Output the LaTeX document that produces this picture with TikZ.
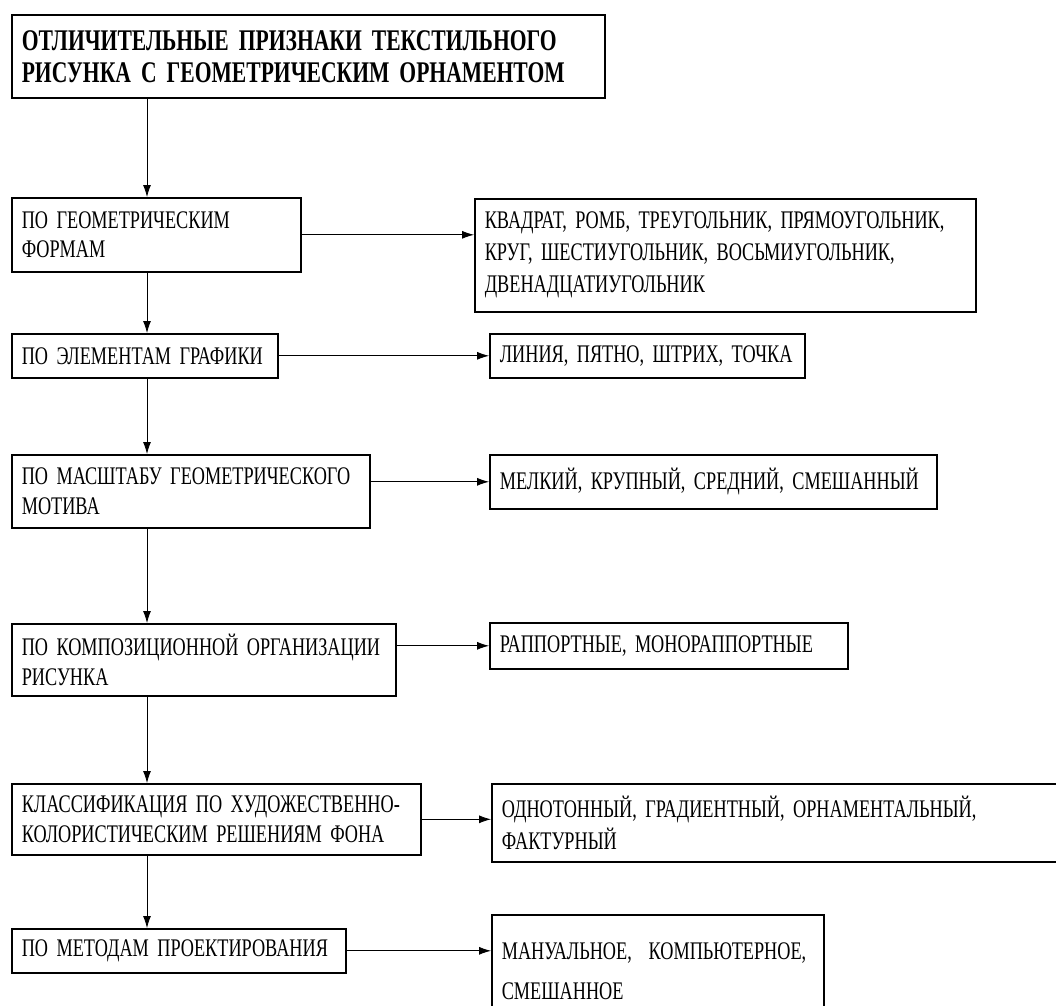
\documentclass[tikz,border=0pt]{standalone}
\usepackage{fontspec}
\setmainfont{Liberation Serif}[FakeStretch=0.72, WordSpace=0.55]
\usetikzlibrary{arrows.meta}
\newdimen\px \px=0.75pt

\begin{document}
\begin{tikzpicture}[x=0.75pt, y=-0.75pt,
    box/.style={draw, line width=1.2pt, anchor=north west, align=left,
        inner xsep=10\px, inner ysep=0pt, font=\fontsize{19}{22}\selectfont},
    arr/.style={-{Latex[length=9pt,width=6pt]}, line width=0.6pt}]
    \useasboundingbox (0,0) rectangle (1056,1006);
    \clip (0,0) rectangle (1056,1006);

    % === Titolo ===
    \node[box, text width=573\px, minimum height=83\px,
          font=\fontsize{22.5}{24}\selectfont\bfseries] (title) at (11,14)
        {ОТЛИЧИТЕЛЬНЫЕ ПРИЗНАКИ ТЕКСТИЛЬНОГО\\РИСУНКА С ГЕОМЕТРИЧЕСКИМ ОРНАМЕНТОМ};

    % === Colonna sinistra ===
    \node[box, text width=269\px, minimum height=74\px] (forms) at (11,197)
        {ПО ГЕОМЕТРИЧЕСКИМ\\ФОРМАМ};
    \node[box, text width=246\px, minimum height=44\px] (graph) at (11,333)
        {ПО ЭЛЕМЕНТАМ ГРАФИКИ};
    \node[box, text width=338\px, minimum height=73\px] (motif) at (11,454)
        {ПО МАСШТАБУ ГЕОМЕТРИЧЕСКОГО\\МОТИВА};
    \node[box, text width=364\px, minimum height=72\px] (comp) at (11,623)
        {ПО КОМПОЗИЦИОННОЙ ОРГАНИЗАЦИИ\\РИСУНКА};
    \node[box, text width=389\px, minimum height=71\px] (ground) at (11,783)
        {КЛАССИФИКАЦИЯ ПО ХУДОЖЕСТВЕННО-\\КОЛОРИСТИЧЕСКИМ РЕШЕНИЯМ ФОНА};
    \node[box, text width=314\px, minimum height=44\px] (method) at (11,928)
        {ПО МЕТОДАМ ПРОЕКТИРОВАНИЯ};

    % === Colonna destra ===
    \node[box, text width=481\px, minimum height=113\px,
          font=\fontsize{19}{24}\selectfont] (shapes) at (474,198)
        {КВАДРАТ, РОМБ, ТРЕУГОЛЬНИК, ПРЯМОУГОЛЬНИК,\\КРУГ, ШЕСТИУГОЛЬНИК, ВОСЬМИУГОЛЬНИК,\\ДВЕНАДЦАТИУГОЛЬНИК};
    \node[box, text width=295\px, minimum height=44\px] (marks) at (489,333)
        {ЛИНИЯ, ПЯТНО, ШТРИХ, ТОЧКА};
    \node[box, text width=427\px, minimum height=54\px] (sizes) at (489,454)
        {МЕЛКИЙ, КРУПНЫЙ, СРЕДНИЙ, СМЕШАННЫЙ};
    \node[box, text width=338\px, minimum height=46\px] (rapport) at (489,622)
        {РАППОРТНЫЕ, МОНОРАППОРТНЫЕ};
    \node[box, text width=580\px, minimum height=78\px,
          font=\fontsize{19}{24}\selectfont] (fills) at (491,783)
        {ОДНОТОННЫЙ, ГРАДИЕНТНЫЙ, ОРНАМЕНТАЛЬНЫЙ,\\ФАКТУРНЫЙ};
    \node[box, text width=312\px, minimum height=112\px,
          font=\fontsize{19}{30}\selectfont] (tools) at (491,914)
        {МАНУАЛЬНОЕ,\ \ КОМПЬЮТЕРНОЕ,\\СМЕШАННОЕ};

    % Linea verticale
    \coordinate (spine) at (147,0);
    \foreach \a/\b in {title/forms, forms/graph, graph/motif,
                       motif/comp, comp/ground, ground/method}
        \draw[arr] (\a.south -| spine) -- (\b.north -| spine);

    % Frecce orizzontali
    \draw[arr] (forms.east) -- (forms.east -| shapes.west);
    \draw[arr] (graph.east) -- (graph.east -| marks.west);
    \draw[arr] (motif.east |- sizes.west) -- (sizes.west);
    \draw[arr] (comp.east |- rapport.west) -- (rapport.west);
    \draw[arr] (ground.east) -- (ground.east -| fills.west);
    \draw[arr] (method.east) -- (method.east -| tools.west);
\end{tikzpicture}
\end{document}
